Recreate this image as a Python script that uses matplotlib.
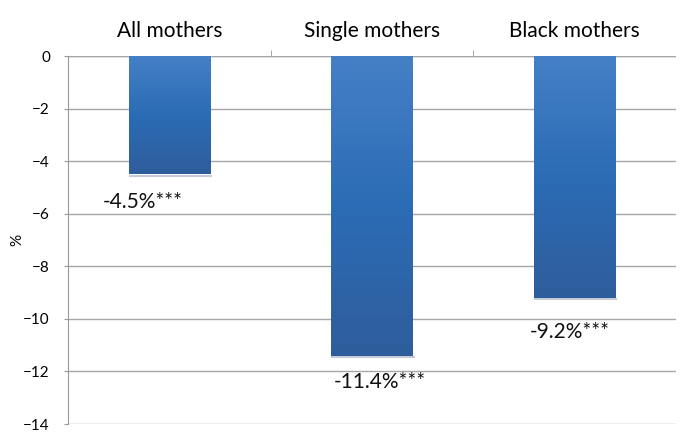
import numpy as np
import matplotlib
matplotlib.use("Agg")
import matplotlib.pyplot as plt
from matplotlib.colors import LinearSegmentedColormap

# data
groups = ["All mothers", "Single mothers", "Black mothers"]
values = [-4.5, -11.4, -9.2]
labels = ["-4.5%***", "-11.4%***", "-9.2%***"]

plt.rcParams["font.family"] = ["Lato", "DejaVu Sans"]

fig = plt.figure(figsize=(6.84, 4.32), dpi=100)
ax = fig.add_axes([68/684, 8/432, 608/684, 368/432])

x = np.arange(len(groups))
bars = ax.bar(x, values, width=0.4, color="#3570b5", zorder=3)

# gradient fill like the excel bars
cmap = LinearSegmentedColormap.from_list("g", ["#4580c6", "#2b6cb6", "#2f5d9b"])
grad = np.linspace(0, 1, 256).reshape(-1, 1)
for b in bars:
    x0, w = b.get_x(), b.get_width()
    y1 = b.get_height()
    im = ax.imshow(grad, aspect="auto", cmap=cmap, extent=[x0, x0 + w, y1, 0], zorder=4)
    im.set_clip_path(b)
    # soft shadow under the bar
    ax.plot([x0 + 0.005, x0 + w + 0.005], [y1 - 0.05, y1 - 0.05], color="#c5ccd6", lw=1.5, zorder=2)

# value labels (positions nudged like in the original)
dx = [-0.13, 0.04, -0.025]
dy = [1.05, 1.0, 1.3]
for i, t in enumerate(labels):
    ax.text(x[i] + dx[i], values[i] - dy[i], t, ha="center", va="center",
            fontsize=15, color="#111111")

ax.set_xlim(-0.5, 2.5)
ax.set_ylim(-14, 0)
ax.set_yticks(np.arange(-14, 1, 2))
ax.tick_params(axis="y", length=3, color="#999999", labelsize=11, pad=10)
ax.yaxis.grid(True, color="#a6a6a6", lw=1, zorder=0)

ax.xaxis.tick_top()
ax.set_xticks(x)
ax.set_xticklabels(groups, fontsize=15)
ax.tick_params(axis="x", length=0, pad=11)
ax.set_xticks([0.5, 1.5], minor=True)
ax.tick_params(axis="x", which="minor", length=4, color="#999999", top=True)

for s in ["right", "bottom", "top"]:
    ax.spines[s].set_visible(False)
ax.spines["left"].set_color("#999999")
ax.axhline(0, color="#a6a6a6", lw=1, zorder=1)

fig.text(17/684, 1 - 240/432, "%", rotation=90, ha="center", va="center", fontsize=11)

fig.savefig("out.png", dpi=100)
